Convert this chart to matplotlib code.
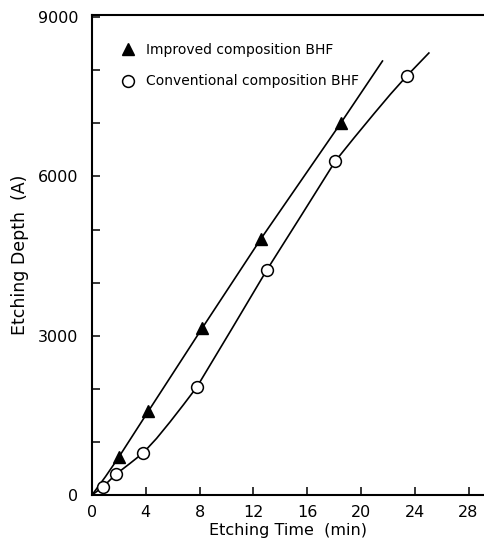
import matplotlib
matplotlib.use("Agg")
import matplotlib.pyplot as plt
from matplotlib.lines import Line2D

# Measured data points
improved_time = [2.0, 4.2, 8.2, 12.55, 18.5]
improved_depth = [716, 1582, 3145, 4821, 7005]
conventional_time = [0.8, 1.8, 3.8, 7.8, 13.0, 18.1, 23.4]
conventional_depth = [150, 395, 791, 2034, 4237, 6290, 7890]

# Hand-drawn fitted curves
improved_curve_time = [0, 1.0, 2.0, 4.2, 8.2, 12.55, 18.5, 21.6]
improved_curve_depth = [0, 345, 716, 1582, 3145, 4821, 7005, 8173]
conventional_curve_time = [0, 0.8, 1.8, 2.8, 3.8, 4.8, 5.8, 6.8, 7.8, 10.4, 13.0,
                           15.6, 18.1, 19.5, 21.0, 22.2, 23.4, 25.05]
conventional_curve_depth = [0, 150, 395, 590, 791, 1065, 1375, 1700, 2034, 3130, 4237,
                            5280, 6290, 6730, 7190, 7550, 7890, 8324]

x_ticks = [0, 4, 8, 12, 16, 20, 24, 28]
y_major = [0, 3000, 6000, 9000]
y_minor = [1000, 2000, 4000, 5000, 7000, 8000]

W, H = 484, 541
fig = plt.figure(figsize=(W / 100, H / 100), dpi=100)
ax = fig.add_axes([92 / W, 1 - 495 / H, 1 - 92 / W, (495 - 15) / H])

ax.plot(improved_curve_time, improved_curve_depth, color="black", lw=1.2, zorder=2)
ax.plot(conventional_curve_time, conventional_curve_depth, color="black", lw=1.2, zorder=2)
ax.plot(improved_time, improved_depth, linestyle="none", marker="^", ms=9,
        color="black", zorder=3)
ax.plot(conventional_time, conventional_depth, linestyle="none", marker="o", ms=8.5,
        mfc="white", mec="black", mew=1.1, zorder=3)

ax.set_xlim(0, 29.15)
ax.set_ylim(0, 9040)
ax.set_xticks(x_ticks)
ax.set_xticklabels([str(t) for t in x_ticks])
ax.set_yticks(y_major)
ax.set_yticklabels([str(t) for t in y_major])
ax.set_yticks(y_minor, minor=True)

for s in ["left", "bottom", "top"]:
    ax.spines[s].set_linewidth(1.5)
ax.spines["right"].set_visible(False)

ax.tick_params(axis="both", which="both", direction="in", width=1.1,
               labelsize=11.5, top=False, right=False)
ax.tick_params(axis="y", which="major", length=6, pad=10)
ax.tick_params(axis="y", which="minor", length=6)
ax.tick_params(axis="x", which="major", length=6, pad=7)

ax.set_xlabel("Etching Time  (min)", fontsize=11.5, labelpad=2)
ax.set_ylabel("Etching Depth  (A)", fontsize=12.5, labelpad=6)

handles = [
    Line2D([], [], linestyle="none", marker="^", ms=9, color="black"),
    Line2D([], [], linestyle="none", marker="o", ms=8.5, mfc="white", mec="black", mew=1.1),
]
labels = ["Improved composition BHF", "Conventional composition BHF"]
leg = ax.legend(handles, labels, loc="upper left", bbox_to_anchor=(0.06, 0.953),
                frameon=False, fontsize=10, handlelength=1.0, handletextpad=0.8,
                labelspacing=1.25, borderaxespad=0)

fig.savefig("out.png", dpi=100)
